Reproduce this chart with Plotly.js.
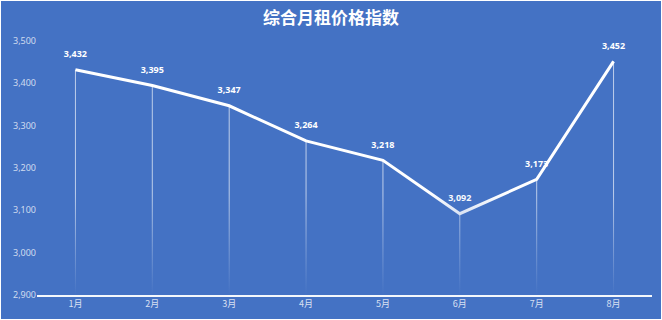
<!DOCTYPE html>
<html><head><meta charset="utf-8">
<script src="https://cdn.plot.ly/plotly-3.0.1.min.js"></script>
<style>html,body{margin:0;padding:0;background:#ffffff;}#chart{position:absolute;left:1px;top:1px;width:660px;height:318px;}</style>
</head><body><div id="chart"></div>
<script>
const months = ['1月','2月','3月','4月','5月','6月','7月','8月'];
const rentIndex = [3432, 3395, 3347, 3264, 3218, 3092, 3173, 3452];
const yTicks = [2900, 3000, 3100, 3200, 3300, 3400, 3500];
const yMin = 2900, yMax = 3500;
const bg = '#4472C4';

const labels = rentIndex.map(v => v.toLocaleString('en-US'));

const drops = {
  x: months, y: rentIndex, mode: 'markers', type: 'scatter',
  marker: {size: 1, color: 'rgba(0,0,0,0)'},
  error_y: {type: 'data', symmetric: false, array: rentIndex.map(() => 0),
            arrayminus: rentIndex.map(v => v - yMin), width: 0, thickness: 1,
            color: 'rgba(255,255,255,0.65)'},
  hoverinfo: 'skip', showlegend: false
};
const fade = {
  x: [-0.5, 7.5, 7.5, -0.5], y: [yMin, yMin, 3140, 3140], xaxis: 'x2',
  type: 'scatter', mode: 'none', fill: 'toself',
  fillgradient: {type: 'vertical', colorscale: [[0, 'rgba(68,114,196,1)'], [1, 'rgba(68,114,196,0)']]},
  hoverinfo: 'skip', showlegend: false
};
const textTrace = {
  x: months, y: rentIndex, mode: 'markers+text', type: 'scatter', text: labels,
  marker: {size: 15, color: 'rgba(0,0,0,0)'},
  textposition: 'top center', cliponaxis: false,
  textfont: {family: 'Noto Sans, sans-serif', size: 9, color: '#ffffff', weight: 'bold'},
  hoverinfo: 'skip', showlegend: false
};
const line = {
  x: months, y: rentIndex, mode: 'lines', type: 'scatter',
  line: {color: '#ffffff', width: 3}, showlegend: false
};

const layout = {
  width: 660, height: 318,
  paper_bgcolor: bg, plot_bgcolor: bg,
  margin: {l: 36, r: 9, t: 40, b: 24},
  title: {text: '综合月租价格指数', x: 0.5, xanchor: 'center', y: 0.945, yanchor: 'middle',
          font: {family: 'Noto Sans CJK SC, sans-serif', size: 17, color: '#ffffff', weight: 'bold'}},
  xaxis: {type: 'category', range: [-0.5, 7.5], showgrid: false, zeroline: false,
          showline: true, linecolor: 'rgba(255,255,255,0.95)', linewidth: 1.5,
          ticks: '', tickfont: {family: 'Noto Sans CJK SC, sans-serif', size: 9, color: 'rgba(255,255,255,0.8)'}},
  xaxis2: {range: [-0.5, 7.5], overlaying: 'x', visible: false},
  yaxis: {range: [yMin, yMax], tickvals: yTicks, ticktext: yTicks.map(v => v.toLocaleString('en-US')),
          showgrid: false, zeroline: false, showline: false, ticks: '',
          tickfont: {family: 'Noto Sans, sans-serif', size: 9, color: 'rgba(255,255,255,0.75)'}},
  showlegend: false
};
Plotly.newPlot('chart', [drops, fade, textTrace, line], layout, {displayModeBar: false, staticPlot: true});
</script></body></html>
